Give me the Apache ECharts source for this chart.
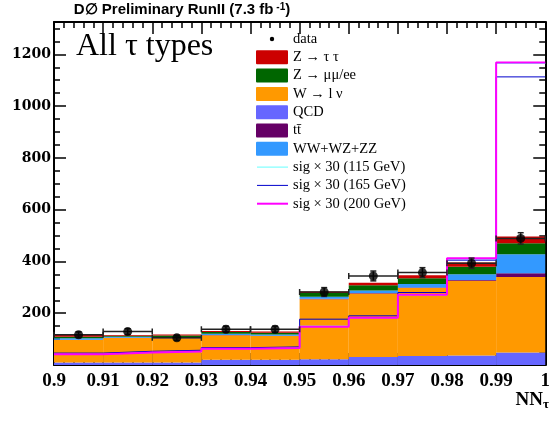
<!DOCTYPE html>
<html>
<head>
<meta charset="utf-8">
<script src="https://cdn.jsdelivr.net/npm/echarts@6/dist/echarts.min.js"></script>
<style>
  html, body { margin: 0; padding: 0; background: #fff; }
  #chart { width: 553px; height: 421px; }
</style>
</head>
<body>
<div id="chart"></div>
<script>
// bin edges of NN_tau histogram
var binEdges = [0.90, 0.91, 0.92, 0.93, 0.94, 0.95, 0.96, 0.97, 0.98, 0.99, 1.00];

// backgrounds, stacked bottom -> top
var qcd     = [10, 10, 10, 20, 20, 22, 31, 35, 37, 48];
var wlnu    = [87, 94, 93, 95, 92, 232, 245, 262, 288, 292];
var ttbar   = [1, 1, 1, 1, 1, 2, 2, 2, 3, 14];
var diboson = [5, 4, 4, 5, 5, 8, 10, 14, 23, 74];
var zmumu   = [6, 4, 6, 6, 7, 14, 20, 22, 29, 42];
var ztautau = [7, 3, 4, 4, 4, 6, 10, 12, 16, 26];

// data points
var dataVals = [117, 129, 105, 138, 138, 282, 344, 357, 393, 489];
var dataErr  = [11, 11, 10, 12, 12, 17, 19, 19, 20, 22];

// signal x 30
var sig115 = [42, 48, 52, 63, 66, 150, 183, 271, 410, 1165];
var sig165 = [46, 53, 57, 67, 70, 177, 190, 280, 405, 1113];
var sig200 = [42, 48, 52, 63, 66, 148, 183, 271, 412, 1169];

var xTickLabels = ['0.9', '0.91', '0.92', '0.93', '0.94', '0.95', '0.96', '0.97', '0.98', '0.99', '1'];
var yTickLabels = ['', '200', '400', '600', '800', '1000', '1200'];

var legendLabels = ['data', 'Z \u2192 \u03c4 \u03c4', 'Z \u2192 \u03bc\u03bc/ee', 'W \u2192 l \u03bd', 'QCD', 'tt\u0304',
  'WW+WZ+ZZ', 'sig \u00d7 30 (115 GeV)', 'sig \u00d7 30 (165 GeV)', 'sig \u00d7 30 (200 GeV)'];
var legendKinds = ['dot', 'box', 'box', 'box', 'box', 'box', 'box', 'line', 'line', 'line'];
var legendColors = ['#000', '#cc0000', '#006600', '#ff9900', '#6666ff', '#660066', '#3399ff', '#66ffff', '#0000cc', '#ff00ff'];

var chart = echarts.init(document.getElementById('chart'));

function stackSeries(name, vals, base, color) {
  return {
    name: name,
    type: 'custom',
    z: 1,
    silent: true,
    data: vals.map(function (v, i) { return [binEdges[i], binEdges[i + 1], base[i], base[i] + v]; }),
    encode: { x: [0, 1], y: [2, 3] },
    renderItem: function (params, api) {
      var p0 = api.coord([api.value(0), api.value(2)]);
      var p1 = api.coord([api.value(1), api.value(3)]);
      return {
        type: 'rect',
        shape: { x: p0[0], y: p1[1], width: p1[0] - p0[0], height: p0[1] - p1[1] },
        style: { fill: color }
      };
    }
  };
}

function stepLine(name, vals, color, width) {
  var pts = binEdges.map(function (e, i) { return [e, vals[Math.min(i, vals.length - 1)]]; });
  return {
    name: name, type: 'line', step: 'end', data: pts, z: 2,
    symbol: 'none', silent: true,
    lineStyle: { color: color, width: width }
  };
}

// build stack
var layers = [
  ['QCD', qcd, '#6666ff'],
  ['W', wlnu, '#ff9900'],
  ['tt', ttbar, '#660066'],
  ['VV', diboson, '#3399ff'],
  ['Zmumu', zmumu, '#006600'],
  ['Ztautau', ztautau, '#cc0000']
];
var series = [];
var base = qcd.map(function () { return 0; });
layers.forEach(function (l) {
  series.push(stackSeries(l[0], l[1], base.slice(), l[2]));
  base = base.map(function (b, i) { return b + l[1][i]; });
});

series.push(stepLine('sig115', sig115, '#66ffff', 1));
series.push(stepLine('sig165', sig165, '#0000cc', 1));
series.push(stepLine('sig200', sig200, '#ff00ff', 2));

// error bars
series.push({
  name: 'err', type: 'custom', z: 3, silent: true,
  data: dataVals.map(function (v, i) { return [binEdges[i], binEdges[i + 1], v, dataErr[i]]; }),
  encode: { x: [0, 1], y: 2 },
  renderItem: function (params, api) {
    var x0 = api.value(0), x1 = api.value(1), v = api.value(2), e = api.value(3);
    var xc = (x0 + x1) / 2;
    var pl = api.coord([x0, v]), pr = api.coord([x1, v]);
    var pt = api.coord([xc, v + e]), pb = api.coord([xc, v - e]);
    var st = { stroke: '#222', lineWidth: 1.5 };
    var c = 3;
    return {
      type: 'group',
      children: [
        { type: 'line', shape: { x1: pl[0], y1: pl[1], x2: pr[0], y2: pr[1] }, style: st },
        { type: 'line', shape: { x1: pl[0], y1: pl[1] - c, x2: pl[0], y2: pl[1] + c }, style: st },
        { type: 'line', shape: { x1: pr[0], y1: pr[1] - c, x2: pr[0], y2: pr[1] + c }, style: st },
        { type: 'line', shape: { x1: pt[0], y1: pt[1], x2: pb[0], y2: pb[1] }, style: st },
        { type: 'line', shape: { x1: pt[0] - c, y1: pt[1], x2: pt[0] + c, y2: pt[1] }, style: st },
        { type: 'line', shape: { x1: pb[0] - c, y1: pb[1], x2: pb[0] + c, y2: pb[1] }, style: st }
      ]
    };
  }
});

series.push({
  name: 'data', type: 'scatter', z: 4, silent: true,
  symbol: 'circle', symbolSize: 9,
  itemStyle: { color: '#000' },
  data: dataVals.map(function (v, i) { return [(binEdges[i] + binEdges[i + 1]) / 2, v]; })
});

// legend drawn as graphics
var graphics = [];
legendLabels.forEach(function (txt, i) {
  var yc = 39 + i * 18.3;
  var k = legendKinds[i], col = legendColors[i];
  if (k === 'box') {
    graphics.push({ type: 'rect', shape: { x: 256, y: yc - 7, width: 32, height: 14, r: 1 }, style: { fill: col } });
  } else if (k === 'line') {
    graphics.push({ type: 'line', shape: { x1: 257, y1: yc, x2: 288, y2: yc }, style: { stroke: col, lineWidth: i === 9 ? 2 : 1 } });
  } else {
    graphics.push({ type: 'circle', shape: { cx: 272, cy: yc, r: 2.2 }, style: { fill: col } });
  }
  graphics.push({
    type: 'text', x: 293, y: yc,
    style: { text: txt, font: '14.5px "Liberation Serif"', fill: '#000', verticalAlign: 'middle' }
  });
});

graphics.push({
  type: 'text', x: 182, y: 2,
  style: {
    text: 'D\u2205 Preliminary RunII (7.3 fb{sup| -1})',
    font: 'bold 15px "Liberation Sans"', fill: '#000', align: 'center',
    rich: { sup: { fontSize: 10, fontWeight: 'bold', fontFamily: 'Liberation Sans', verticalAlign: 'top', lineHeight: 15 } }
  }
});
graphics.push({
  type: 'text', x: 76, y: 31,
  style: { text: 'All \u03c4 types', font: '32px "Liberation Serif"', fill: '#000' }
});
graphics.push({
  type: 'text', x: 549, y: 390,
  style: {
    text: 'NN{sub|\u03c4}', font: 'bold 19px "Liberation Serif"', fill: '#000', align: 'right',
    rich: { sub: { fontSize: 13, fontWeight: 'bold', fontFamily: 'Liberation Serif', verticalAlign: 'bottom', padding: [8, 0, 0, 0] } }
  }
});

var tickCommon = { inside: true, length: 12, lineStyle: { color: '#000', width: 1.5 } };
var lineCommon = { show: true, onZero: false, lineStyle: { color: '#000', width: 2 } };

var option = {
  animation: false,
  grid: { left: 54, right: 1, top: 22, bottom: 56 },
  xAxis: [
    {
      type: 'value', min: 0.9, max: 1, interval: 0.01, position: 'bottom',
      axisLine: lineCommon, axisTick: tickCommon,
      minorTick: { show: true, splitNumber: 5, length: 6, lineStyle: { color: '#000', width: 1.5 } },
      splitLine: { show: false },
      axisLabel: {
        margin: 7, color: '#000', fontFamily: 'Liberation Serif', fontWeight: 'bold', fontSize: 19,
        formatter: function (v) { return xTickLabels[Math.round((v - 0.9) * 100)]; }
      }
    },
    {
      type: 'value', min: 0.9, max: 1, interval: 0.01, position: 'top',
      axisLine: lineCommon, axisTick: tickCommon,
      minorTick: { show: true, splitNumber: 5, length: 6, lineStyle: { color: '#000', width: 1.5 } },
      splitLine: { show: false }, axisLabel: { show: false }
    }
  ],
  yAxis: [
    {
      type: 'value', min: 0, max: 1325, interval: 200, position: 'left',
      axisLine: lineCommon, axisTick: tickCommon,
      minorTick: { show: true, splitNumber: 4, length: 6, lineStyle: { color: '#000', width: 1.5 } },
      splitLine: { show: false },
      axisLabel: {
        margin: 3, color: '#000', fontFamily: 'DejaVu Serif', fontWeight: 'bold', fontSize: 14,
        showMaxLabel: false,
        formatter: function (v) { return yTickLabels[Math.round(v / 200)] || ''; }
      }
    },
    {
      type: 'value', min: 0, max: 1325, interval: 200, position: 'right',
      axisLine: lineCommon, axisTick: tickCommon,
      minorTick: { show: true, splitNumber: 4, length: 6, lineStyle: { color: '#000', width: 1.5 } },
      splitLine: { show: false }, axisLabel: { show: false }
    }
  ],
  series: series,
  graphic: graphics
};

chart.setOption(option);
</script>
</body>
</html>
